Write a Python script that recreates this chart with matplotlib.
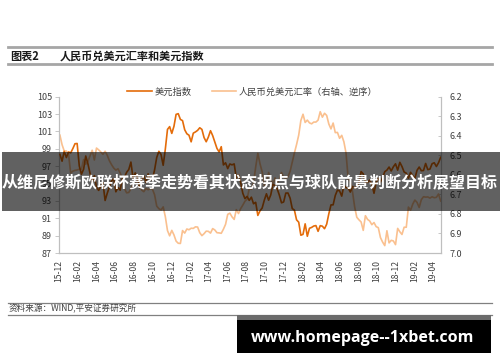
import matplotlib
matplotlib.use("Agg")
import matplotlib.pyplot as plt
import matplotlib.dates as mdates
from matplotlib.lines import Line2D
from matplotlib.patches import Rectangle
import pandas as pd

plt.rcParams["font.family"] = ["Noto Sans CJK SC", "DejaVu Sans"]

# %% Data: weekly values (Dec 2015 - Apr 2019)
start_date = "2015-12-04"

# 美元指数 (left axis)
usd_index = [
    98.35, 97.57, 98.71, 97.99,
    98.63, 98.53, 99.02, 99.58, 99.61, 97.02, 96.07, 96.64, 98.17,
    97.28, 96.16, 95.08, 95.91, 94.60, 94.21, 94.66, 95.09, 93.05,
    93.88, 94.62, 95.30, 95.54, 94.05, 94.54, 94.24, 95.55,
    95.71, 96.29, 96.61, 97.47, 95.58, 96.22, 95.71, 94.51, 95.51,
    95.85, 95.11, 96.11, 95.47, 95.47, 96.58, 98.00, 98.71, 98.35,
    97.10, 98.97, 101.23, 101.55, 100.77, 101.58, 102.96, 103.04, 102.38,
    102.24, 101.19, 100.73, 100.56, 99.80, 100.80, 100.94, 101.12,
    101.42, 101.23, 100.29, 99.81, 100.35, 101.08, 100.52, 99.77, 99.04,
    98.64, 99.24, 97.14, 97.39, 96.72, 97.25, 97.15, 97.26, 95.63,
    96.01, 95.15, 93.89, 93.26, 93.52, 93.06, 93.43, 92.67,
    92.84, 91.33, 91.86, 92.18, 93.08, 93.82, 93.08, 93.69, 94.87,
    94.80, 94.39, 93.66, 92.78, 92.88, 93.90, 93.91, 93.32, 92.12,
    91.94, 90.82, 90.55, 89.05, 89.15, 90.36, 88.93, 89.85,
    89.95, 90.11, 90.16, 89.50, 90.15, 90.09, 89.80, 90.32, 91.52,
    92.54, 92.55, 93.63, 94.24, 94.15, 93.55, 94.79, 94.52, 94.47,
    94.02, 94.67, 94.46, 94.66, 95.14, 96.37, 96.11, 95.17, 95.13,
    95.40, 94.93, 93.88, 95.13, 95.60, 95.17, 95.68, 96.37,
    96.54, 96.90, 96.45, 96.93, 97.27, 96.54, 97.44, 96.96, 96.33,
    96.19, 95.61, 96.29, 95.89, 95.59, 96.52, 96.90, 96.48,
    96.50, 97.31, 96.60, 96.66, 97.28, 97.39, 96.96, 97.40, 98.02,
]

# 人民币兑美元汇率 (right axis, inverted)
usd_cny = [
    6.397, 6.446, 6.478, 6.478,
    6.494, 6.591, 6.581, 6.577, 6.575, 6.571, 6.571, 6.522, 6.546,
    6.532, 6.503, 6.474, 6.524, 6.463, 6.472, 6.483, 6.495, 6.479,
    6.500, 6.528, 6.548, 6.565, 6.576, 6.569, 6.591, 6.616,
    6.670, 6.692, 6.690, 6.671, 6.646, 6.641, 6.629, 6.631, 6.678,
    6.686, 6.669, 6.676, 6.670, 6.673, 6.702, 6.760, 6.773, 6.780,
    6.764, 6.814, 6.885, 6.912, 6.884, 6.907, 6.939, 6.950, 6.951,
    6.885, 6.898, 6.877, 6.881, 6.873, 6.874, 6.866, 6.867,
    6.896, 6.911, 6.901, 6.888, 6.889, 6.898, 6.875, 6.882, 6.896,
    6.897, 6.899, 6.878, 6.853, 6.802, 6.796, 6.815, 6.828, 6.778,
    6.798, 6.773, 6.755, 6.735, 6.725, 6.670, 6.674, 6.640,
    6.560, 6.490, 6.543, 6.584, 6.654, 6.654, 6.588, 6.618, 6.650,
    6.616, 6.640, 6.624, 6.588, 6.613, 6.618, 6.610, 6.582, 6.534,
    6.488, 6.445, 6.397, 6.322, 6.290, 6.332, 6.320, 6.334,
    6.339, 6.330, 6.330, 6.320, 6.277, 6.305, 6.285, 6.296, 6.340,
    6.365, 6.335, 6.384, 6.383, 6.413, 6.398, 6.431, 6.489, 6.620,
    6.635, 6.686, 6.764, 6.817, 6.830, 6.841, 6.884, 6.809, 6.828,
    6.836, 6.855, 6.844, 6.865, 6.870, 6.921, 6.944, 6.962,
    6.886, 6.948, 6.935, 6.938, 6.957, 6.874, 6.891, 6.905, 6.868,
    6.868, 6.765, 6.781, 6.750, 6.729, 6.741, 6.767, 6.727,
    6.712, 6.714, 6.713, 6.719, 6.712, 6.717, 6.715, 6.698, 6.734,
]

usd_label = "美元指数"
cny_label = "人民币兑美元汇率（右轴、逆序）"
title_num = "图表2"
title_text = "人民币兑美元汇率和美元指数"
source_text = "资料来源：WIND,平安证券研究所"
banner_text = "从维尼修斯欧联杯赛季走势看其状态拐点与球队前景判断分析展望目标"
url_text = "www.homepage--1xbet.com"

dates = pd.date_range(start_date, periods=len(usd_index), freq="7D")

DARK = "#E46C0A"
LIGHT = "#FAC08F"
SPINE = "#BFBFBF"
TXT = "#404040"

# %% Plot
fig = plt.figure(figsize=(5, 3.62), dpi=100)
ax = fig.add_axes([0.118, 0.301, 0.764, 0.432])
ax2 = ax.twinx()

(l1,) = ax.plot(dates, usd_index, color=DARK, lw=1.2, zorder=3)
(l2,) = ax2.plot(dates, usd_cny, color=LIGHT, lw=1.2)
ax.set_zorder(ax2.get_zorder() + 1)
ax.patch.set_visible(False)

ax.set_ylim(87, 105)
ax.set_yticks(range(87, 106, 2))
ax2.set_ylim(7.0, 6.2)
ax2.set_yticks([6.2 + 0.1 * i for i in range(9)])
ax2.yaxis.set_major_formatter(matplotlib.ticker.FormatStrFormatter("%.1f"))

ax.set_xlim(pd.Timestamp("2015-12-01"), pd.Timestamp("2019-04-27"))
ax.xaxis.set_major_locator(mdates.MonthLocator(bymonth=[2, 4, 6, 8, 10, 12]))
ax.xaxis.set_major_formatter(mdates.DateFormatter("%y-%m"))
for lab in ax.get_xticklabels():
    lab.set_rotation(90)

for a in (ax, ax2):
    a.spines["top"].set_visible(False)
    for s in ("left", "right", "bottom"):
        a.spines[s].set_color(SPINE)
        a.spines[s].set_linewidth(0.8)
ax.tick_params(axis="y", length=3, width=0.6, color=SPINE, labelsize=6.5,
               labelcolor=TXT, pad=2)
ax.tick_params(axis="x", length=0, labelsize=6.2, labelcolor=TXT, pad=5)
ax2.tick_params(axis="y", length=2.5, width=0.6, color=SPINE, labelsize=6.5,
                labelcolor=TXT, direction="in", pad=6)

fig.legend([l1, l2], [usd_label, cny_label], loc="center",
           bbox_to_anchor=(0.505, 0.746), ncol=2, frameon=False,
           fontsize=6.7, handlelength=2.6, columnspacing=2.2,
           handletextpad=0.3, labelcolor=TXT)

# %% Header and footer
def hline(y, x0, x1, lw, color):
    fig.add_artist(Line2D([x0 / 500, x1 / 500], [1 - y / 362, 1 - y / 362],
                          transform=fig.transFigure, lw=lw, color=color))

hline(46.7, 8, 492, 2.0, "#A6A6A6")
hline(64, 8, 492, 2.0, "#A6A6A6")
fig.text(10 / 500, 1 - 56.5 / 362, title_num, fontsize=8, fontweight="bold",
         va="center", ha="left", color="#1a1a1a")
fig.text(60 / 500, 1 - 56.5 / 362, title_text, fontsize=8, fontweight="bold",
         va="center", ha="left", color="#1a1a1a")

hline(302.7, 8, 492, 0.9, "#808080")
hline(315, 8, 492, 0.9, "#808080")
fig.text(9 / 500, 1 - 308.5 / 362, source_text, fontsize=6.2, va="center",
         ha="left", color=TXT)

# %% Overlay banner and url box
fig.add_artist(Rectangle((2 / 500, 1 - 211 / 362), 498 / 500, 59 / 362,
                         transform=fig.transFigure, facecolor="black",
                         alpha=0.62, edgecolor="none", zorder=10))
fig.text(0.5, 1 - 182 / 362, banner_text, fontsize=11.5, fontweight="bold",
         color="white", ha="center", va="center", zorder=11)

fig.add_artist(Rectangle((237 / 500, 1 - 353 / 362), 254 / 500, 38 / 362,
                         transform=fig.transFigure, facecolor="black",
                         edgecolor="none", zorder=10))
fig.add_artist(Rectangle((237 / 500, 1 - 320 / 362), 254 / 500, 5 / 362,
                         transform=fig.transFigure, facecolor="#6B6B6B",
                         edgecolor="none", zorder=10))
fig.text(363 / 500, 1 - 337.5 / 362, url_text, fontsize=11.5, fontweight="bold",
         color="white", ha="center", va="center", zorder=11,
         family=["Open Sans", "DejaVu Sans"])

fig.savefig("out.png", dpi=100)
